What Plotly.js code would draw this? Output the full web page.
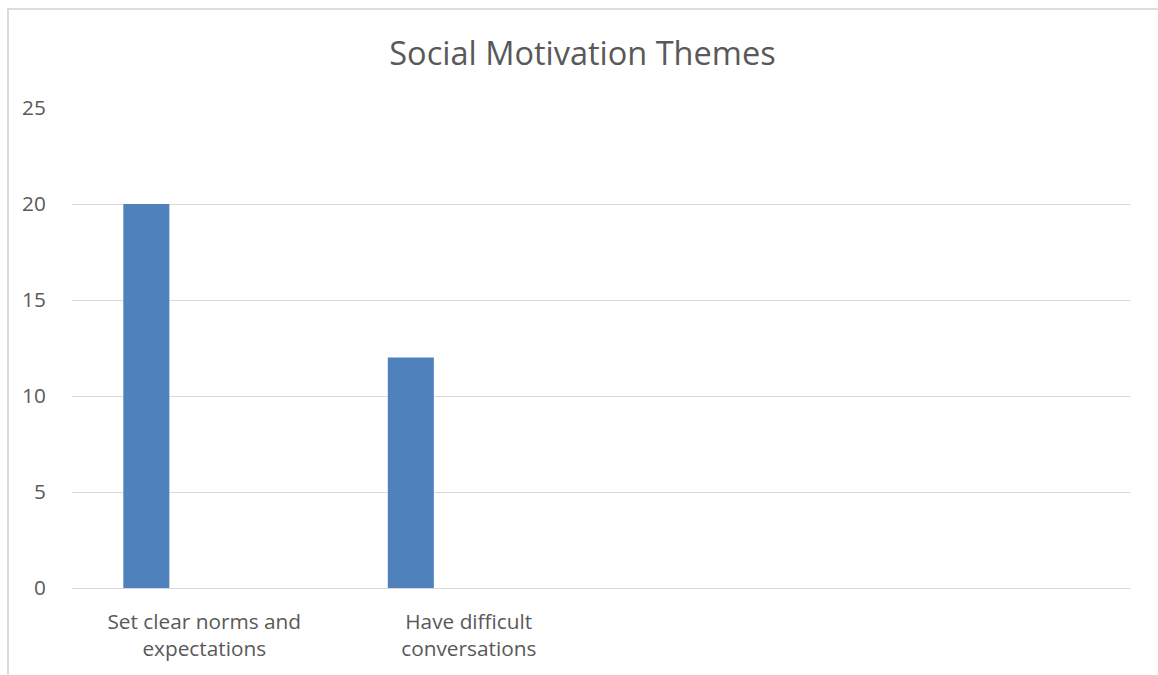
<!DOCTYPE html>
<html>
<head>
<meta charset="utf-8">
<script src="https://cdn.plot.ly/plotly-3.0.1.min.js"></script>
<style>
html,body{margin:0;padding:0;background:#fff;}
#wrap{position:relative;width:1158px;height:675px;overflow:hidden;}
#frame{position:absolute;left:7px;top:8px;width:1160px;height:680px;border-left:2px solid #dcdcdc;border-top:2px solid #dcdcdc;pointer-events:none;z-index:5;}
#chart{position:absolute;left:0;top:0;width:1158px;height:675px;}
</style>
</head>
<body>
<div id="wrap"><div id="chart"></div><div id="frame"></div></div>
<script>
const chartTitle = "Social Motivation Themes";
const categories = ["Set clear norms and<br>expectations", "Have difficult<br>conversations"];
const values = [20, 12];
const yTicks = [0, 5, 10, 15, 20, 25];

const trace = {
  type: "bar",
  x: categories,
  y: values,
  width: 0.174,
  offset: -0.306,
  marker: {color: "#4f81bd", line: {width: 0}},
  hoverinfo: "x+y"
};

const layout = {
  width: 1158,
  height: 675,
  margin: {l: 71.5, r: 27.5, t: 108, b: 87},
  paper_bgcolor: "#ffffff",
  plot_bgcolor: "#ffffff",
  font: {family: "Open Sans, sans-serif", color: "#595959"},
  showlegend: false,
  title: {
    text: chartTitle,
    font: {family: "Open Sans, sans-serif", size: 32.5, color: "#595959"},
    x: 0.503, xanchor: "center",
    y: 0.921, yanchor: "middle"
  },
  xaxis: {
    type: "category",
    range: [-0.5, 3.5],
    showgrid: false,
    showline: false,
    zeroline: false,
    ticks: "outside",
    ticklen: 15,
    tickcolor: "rgba(0,0,0,0)",
    tickfont: {family: "Open Sans, sans-serif", size: 20.8, color: "#595959"},
    fixedrange: true
  },
  yaxis: {
    range: [0, 25],
    tickvals: yTicks,
    showgrid: true,
    gridcolor: "#d9d9d9",
    gridwidth: 1,
    zeroline: true,
    zerolinecolor: "#d9d9d9",
    zerolinewidth: 1,
    showline: false,
    ticks: "outside",
    ticklen: 21,
    tickcolor: "rgba(0,0,0,0)",
    tickfont: {family: "Open Sans, sans-serif", size: 20.8, color: "#595959"},
    fixedrange: true
  }
};

Plotly.newPlot("chart", [trace], layout, {displayModeBar: false, staticPlot: true});
</script>
</body>
</html>
